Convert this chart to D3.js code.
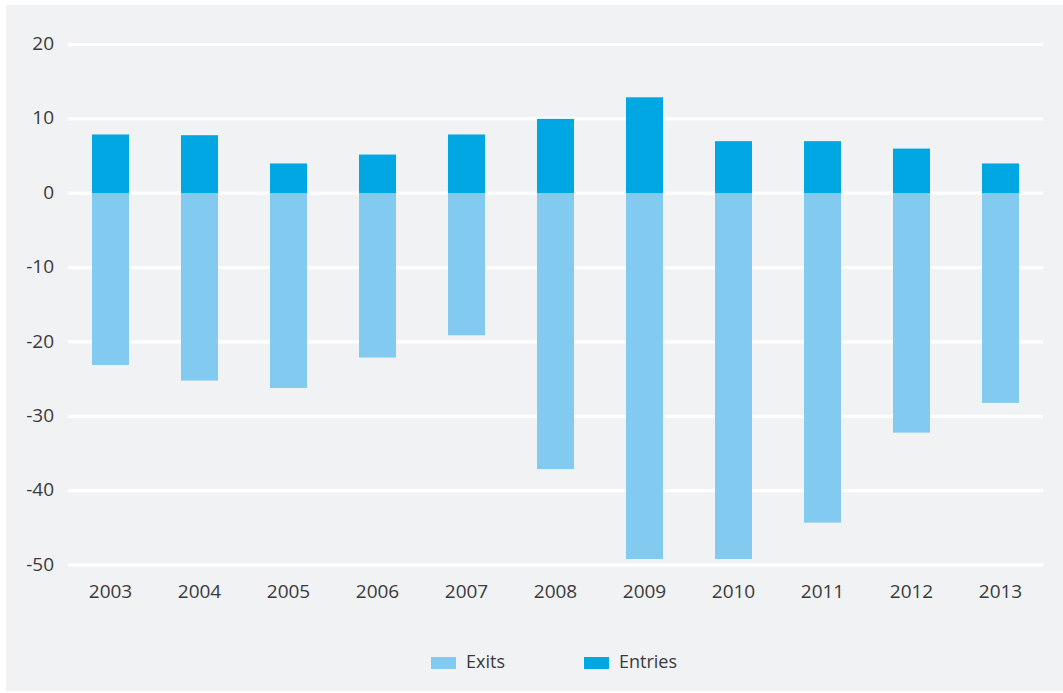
<!DOCTYPE html>
<html><head><meta charset="utf-8">
<script src="https://cdn.jsdelivr.net/npm/d3@7"></script>
<style>
html,body{margin:0;padding:0;background:#fff;}
svg{display:block;font-family:"Open Sans","Noto Sans",sans-serif;}
</style></head>
<body>
<svg id="chart" width="1063" height="693"></svg>
<script>
const years = ["2003","2004","2005","2006","2007","2008","2009","2010","2011","2012","2013"];
const entries = [7.9, 7.8, 4.0, 5.2, 7.9, 10.0, 12.9, 7.0, 7.0, 6.0, 4.0];
const exits = [-23.1, -25.2, -26.2, -22.1, -19.1, -37.1, -49.2, -49.2, -44.3, -32.2, -28.2];
const yTicks = [20, 10, 0, -10, -20, -30, -40, -50];
const seriesNames = ["Exits", "Entries"];
const seriesColors = ["#82caf0", "#00a7e3"];

const svg = d3.select("#chart");
svg.append("rect").attr("x", 6).attr("y", 5).attr("width", 1057).attr("height", 686).attr("fill", "#f1f2f4");

const x = d3.scaleBand().domain(years).range([66, 1045]).paddingInner(0.584).paddingOuter(0.292);
const y = d3.scaleLinear().domain([-50, 20]).range([565, 44.5]);

// grid
svg.append("g").selectAll("line").data(yTicks).join("line")
  .attr("x1", 68).attr("x2", 1043)
  .attr("y1", d => y(d)).attr("y2", d => y(d))
  .attr("stroke", "#ffffff").attr("stroke-width", 3.2);

// y axis labels
const yAxis = d3.axisLeft(y).tickValues(yTicks).tickSize(0).tickPadding(0).tickFormat(d => String(d));
const gy = svg.append("g").attr("transform", "translate(54,0)").call(yAxis);
gy.select(".domain").remove();
gy.selectAll("text").attr("font-size", 19).attr("fill", "#3a3a3a").attr("font-family", "'Open Sans',sans-serif").attr("dy", "0.32em").attr("y", -1);

// bars
const data = years.map((yr, i) => ({yr, entry: entries[i], exit: exits[i]}));
svg.append("g").selectAll("rect").data(data).join("rect")
  .attr("x", d => x(d.yr)).attr("width", x.bandwidth())
  .attr("y", y(0)).attr("height", d => y(d.exit) - y(0))
  .attr("fill", seriesColors[0]);
svg.append("g").selectAll("rect").data(data).join("rect")
  .attr("x", d => x(d.yr)).attr("width", x.bandwidth())
  .attr("y", d => y(d.entry)).attr("height", d => y(0) - y(d.entry))
  .attr("fill", seriesColors[1]);

// x axis labels
const xAxis = d3.axisBottom(x).tickSize(0).tickPadding(0);
const gx = svg.append("g").attr("transform", "translate(0,592)").call(xAxis);
gx.select(".domain").remove();
gx.selectAll("text").attr("font-size", 19).attr("fill", "#3a3a3a").attr("font-family", "'Open Sans',sans-serif").attr("dy", "0.32em").attr("y", 0);

// legend
const legendX = [431, 584];
const lg = svg.append("g");
seriesNames.forEach((name, i) => {
  lg.append("rect").attr("x", legendX[i]).attr("y", 657).attr("width", 25).attr("height", 12).attr("fill", seriesColors[i]);
  lg.append("text").attr("x", legendX[i] + 35).attr("y", 662).attr("dy", "0.35em")
    .attr("font-size", 18).attr("fill", "#3a3a3a").text(name);
});
</script>
</body></html>
